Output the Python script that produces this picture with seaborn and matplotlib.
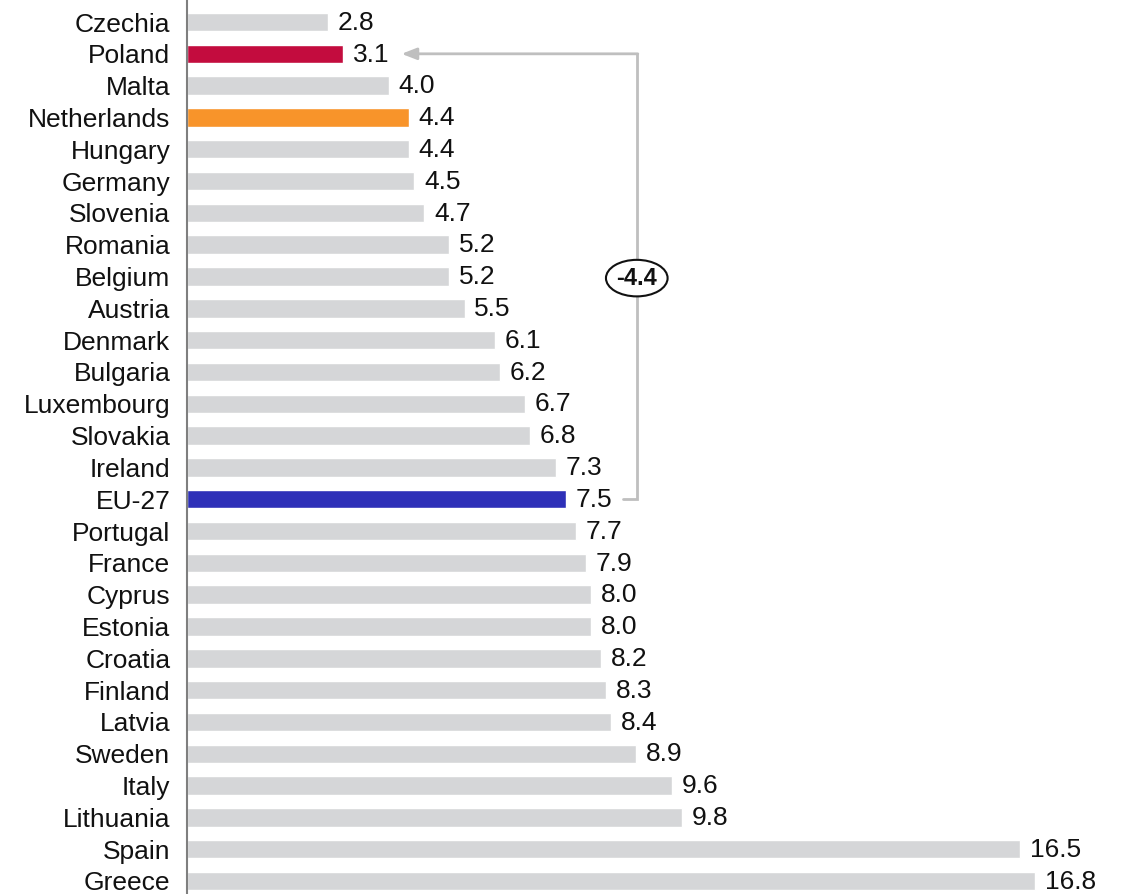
import matplotlib
matplotlib.use("Agg")
import matplotlib.pyplot as plt
import seaborn as sns
import pandas as pd

countries = ["Czechia", "Poland", "Malta", "Netherlands", "Hungary", "Germany", "Slovenia",
             "Romania", "Belgium", "Austria", "Denmark", "Bulgaria", "Luxembourg", "Slovakia",
             "Ireland", "EU-27", "Portugal", "France", "Cyprus", "Estonia", "Croatia", "Finland",
             "Latvia", "Sweden", "Italy", "Lithuania", "Spain", "Greece"]
values = [2.8, 3.1, 4.0, 4.4, 4.4, 4.5, 4.7, 5.2, 5.2, 5.5, 6.1, 6.2, 6.7, 6.8, 7.3, 7.5,
          7.7, 7.9, 8.0, 8.0, 8.2, 8.3, 8.4, 8.9, 9.6, 9.8, 16.5, 16.8]
highlight = {"Poland": "#C30C3E", "Netherlands": "#F8942A", "EU-27": "#2E30B8"}
grey = "#D5D6D8"
diff_label = "-4.4"

df = pd.DataFrame({"country": countries, "value": values})
palette = {c: highlight.get(c, grey) for c in countries}

sns.set_style("white")
plt.rcParams["font.family"] = ["Liberation Sans", "DejaVu Sans"]

fig = plt.figure(figsize=(11.27, 8.94), dpi=100)
ax = fig.add_axes([187 / 1127, 0, 1 - 187 / 1127, 1])

sns.barplot(data=df, x="value", y="country", hue="country", palette=palette,
            order=countries, legend=False, width=0.58, ax=ax, saturation=1)

px = 50.48  # pixels per unit
ax.set_xlim(0, (1127 - 187) / px)
ax.set_ylim(27 + 13 / 31.8, -22 / 31.8)

for i, v in enumerate(values):
    ax.annotate(f"{v:.1f}", (v, i), xytext=(7, -0.5), textcoords="offset points",
                ha="left", va="center", fontsize=19, color="#111111")

ax.set_xlabel("")
ax.set_ylabel("")
ax.set_xticks([])
ax.tick_params(axis="y", length=0, pad=12, labelsize=19, labelcolor="#111111")
for s in ["top", "right", "bottom"]:
    ax.spines[s].set_visible(False)
ax.spines["left"].set_color("#7F7F7F")
ax.spines["left"].set_linewidth(1.5)

# bracket from EU-27 to Poland
i_eu = countries.index("EU-27")
i_pl = countries.index("Poland")
xb = values[i_eu] + 1.41
x_start = values[i_eu] + 1.14
x_tip = values[i_pl] + 1.15
bc = "#BFBFBF"
ax.plot([x_start, xb, xb], [i_eu, i_eu, i_pl], color=bc, lw=2, solid_joinstyle="miter",
        clip_on=False)
ax.annotate("", xy=(x_tip, i_pl), xytext=(xb + 0.02, i_pl),
            arrowprops=dict(arrowstyle="-|>,head_length=0.9,head_width=0.35", color=bc, lw=2,
                            shrinkA=0, shrinkB=0))
ax.text(xb, 8.05, diff_label, ha="center", va="center", fontsize=17, fontweight="bold",
        color="#111111",
        bbox=dict(boxstyle="ellipse,pad=0.06", fc="white", ec="#111111", lw=1.5))

fig.savefig("out.png", dpi=100)
